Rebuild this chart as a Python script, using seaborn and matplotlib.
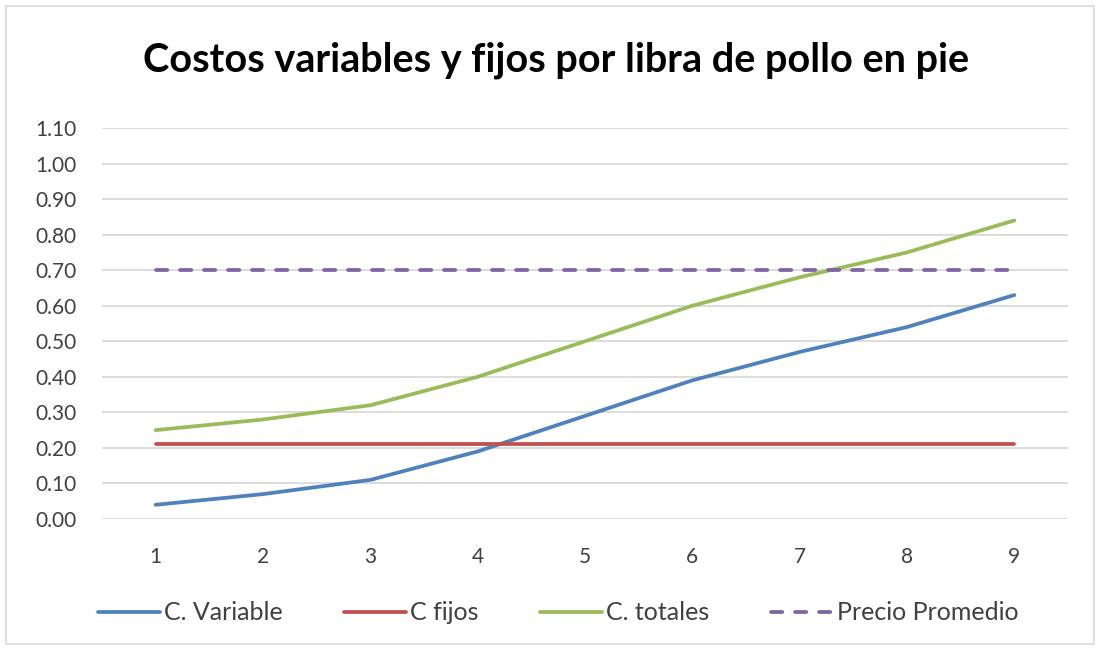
import matplotlib
matplotlib.use("Agg")
import matplotlib.pyplot as plt
import seaborn as sns
import pandas as pd
from matplotlib.patches import Rectangle
from matplotlib.lines import Line2D

periods = [1, 2, 3, 4, 5, 6, 7, 8, 9]
c_variable = [0.04, 0.07, 0.11, 0.19, 0.29, 0.39, 0.47, 0.54, 0.63]
c_fijos = [0.21, 0.21, 0.21, 0.21, 0.21, 0.21, 0.21, 0.21, 0.21]
c_totales = [0.25, 0.28, 0.32, 0.40, 0.50, 0.60, 0.68, 0.75, 0.84]
precio_promedio = [0.70, 0.70, 0.70, 0.70, 0.70, 0.70, 0.70, 0.70, 0.70]
series_names = ["C. Variable", "C fijos", "C. totales", "Precio Promedio"]
y_ticks = [0.0, 0.1, 0.2, 0.3, 0.4, 0.5, 0.6, 0.7, 0.8, 0.9, 1.0, 1.1]
title = "Costos variables y fijos por libra de pollo en pie"

rows = []
for name, vals in zip(series_names, [c_variable, c_fijos, c_totales, precio_promedio]):
    for p, v in zip(periods, vals):
        rows.append({"x": p, "y": v, "serie": name})
df = pd.DataFrame(rows)

sns.set_theme(style="white")
plt.rcParams["font.family"] = ["Lato", "DejaVu Sans"]

palette = {"C. Variable": "#4F81BD", "C fijos": "#C0504D",
           "C. totales": "#9BBB59", "Precio Promedio": "#8064A2"}
dashes = {"C. Variable": "", "C fijos": "", "C. totales": "",
          "Precio Promedio": (3.0, 3.4)}

fig = plt.figure(figsize=(11, 6.5), dpi=100)
ax = fig.add_axes([102/1100, 131/650, (1068-102)/1100, (519-128)/650])

lw = 2.7
sns.lineplot(data=df, x="x", y="y", hue="serie", style="serie",
             palette=palette, dashes=dashes, hue_order=series_names,
             style_order=series_names, linewidth=lw, ax=ax, legend=False)
for ln in ax.lines:
    ln.set_solid_capstyle("round")
    ln.set_dash_capstyle("round")

ax.set_xlim(0.5, 9.5)
ax.set_ylim(0, 1.1)
ax.set_yticks(y_ticks)
ax.set_yticklabels([f"{t:.2f}" for t in y_ticks])
ax.set_xticks(periods)
ax.set_xticklabels([str(p) for p in periods])
ax.yaxis.grid(True, color="#D9D9D9", linewidth=1.3)
ax.set_axisbelow(True)
for s in ax.spines.values():
    s.set_visible(False)
ax.tick_params(axis="both", length=0, labelsize=15)
ax.tick_params(axis="y", pad=18)
ax.tick_params(axis="x", pad=20)
for lab in ax.get_yticklabels() + ax.get_xticklabels():
    lab.set_color("#404040")
ax.set_xlabel("")
ax.set_ylabel("")

fig.suptitle(title, x=556/1100, y=1 - 60/650, va="center", ha="center",
             fontsize=28.5, fontweight="bold", color="#000000")

handles = [Line2D([], [], color=palette[n], linewidth=lw,
                  linestyle=(0, dashes[n]) if dashes[n] else "-",
                  solid_capstyle="round", dash_capstyle="round")
           for n in series_names]
leg = fig.legend(handles, series_names, loc="center", ncol=4,
                 bbox_to_anchor=(558/1100, 1 - 613/650), frameon=False,
                 prop={"family": ["Lato"], "size": 18},
                 handlelength=2.5, handletextpad=0.15, columnspacing=2.45)
for t in leg.get_texts():
    t.set_color("#404040")

fig.patches.append(Rectangle((6/1100, 6/650), 1 - 12/1100, 1 - 12/650,
                             transform=fig.transFigure, fill=False,
                             edgecolor="#D9D9D9", linewidth=1.2))

fig.savefig("out.png", dpi=100)
